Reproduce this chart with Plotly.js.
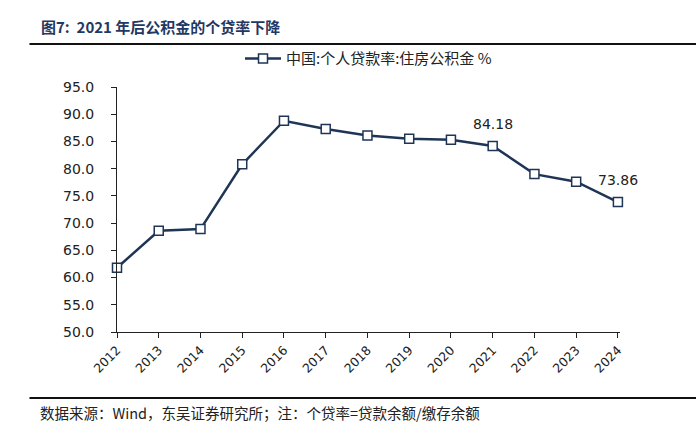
<!DOCTYPE html>
<html><head><meta charset="utf-8">
<script src="https://cdn.plot.ly/plotly-3.0.1.min.js"></script>
<style>html,body{margin:0;padding:0;background:#fff;}#chart{width:696px;height:439px;}</style>
</head><body><div id="chart"></div>
<script>
const years = [2012,2013,2014,2015,2016,2017,2018,2019,2020,2021,2022,2023,2024];
const loanRatio = [61.8,68.6,68.9,80.8,88.8,87.3,86.1,85.5,85.3,84.18,79.0,77.6,73.86];
const yTicks = [50,55,60,65,70,75,80,85,90,95];
const labeledYears = [2021,2024];
const seriesName = '中国:个人贷款率:住房公积金 %';
const titleText = '图7:  2021 年后公积金的个贷率下降';
const sourceText = '数据来源：Wind，东吴证券研究所；注：个贷率=贷款余额/缴存余额';

const navy = '#1f3556';
const trace = {
  x: years, y: loanRatio, name: seriesName, type: 'scatter', mode: 'lines+markers', cliponaxis: false,
  line: {color: navy, width: 2.5},
  marker: {symbol: 'square', size: 9, color: '#ffffff', line: {color: navy, width: 1.5}}
};
const annotations = labeledYears.map(yr => {
  const v = loanRatio[years.indexOf(yr)];
  return {x: yr, y: v, text: v.toFixed(2), showarrow: false, xref: 'x', yref: 'y',
    yshift: 22, font: {size: 14, color: '#222', family: 'DejaVu Sans, sans-serif'}};
});
annotations.push({xref: 'paper', yref: 'paper', x: -0.156, y: 1.245, xanchor: 'left', yanchor: 'middle',
  text: '<b>' + titleText + '</b>', showarrow: false, font: {size: 15, color: '#1f3864', family: 'Noto Sans CJK SC, serif'}});
annotations.push({xref: 'paper', yref: 'paper', x: -0.158, y: -0.327, xanchor: 'left', yanchor: 'middle',
  text: sourceText, showarrow: false, font: {size: 14.5, color: '#222', family: 'Noto Sans CJK SC, serif'}});

const layout = {
  width: 696, height: 439,
  margin: {l: 117, r: 76, t: 87, b: 107},
  paper_bgcolor: '#fff', plot_bgcolor: '#fff',
  showlegend: true,
  legend: {orientation: 'h', x: 0.5, xanchor: 'center', y: 1.115, yanchor: 'middle', itemwidth: 36,
    bgcolor: 'rgba(0,0,0,0)',
    font: {size: 15, color: '#222', family: 'Noto Sans CJK SC, sans-serif'}},
  xaxis: {type: 'linear', range: [2012, 2024.05], tickmode: 'array', tickvals: years,
    ticktext: years.map(String), tickangle: -45, ticks: 'outside', ticklen: 5, tickcolor: '#222',
    showline: true, linecolor: '#222', linewidth: 1, showgrid: false, zeroline: false,
    tickfont: {size: 12.5, color: '#222', family: 'DejaVu Sans, sans-serif'}},
  yaxis: {range: [50, 95], tickmode: 'array', tickvals: yTicks, ticktext: yTicks.map(v => v.toFixed(1)),
    ticks: 'outside', ticklen: 5, tickcolor: '#222', showline: true, linecolor: '#222', linewidth: 1,
    showgrid: false, zeroline: false, ticklabelstandoff: 14,
    tickfont: {size: 14, color: '#222', family: 'DejaVu Sans, sans-serif'}},
  annotations: annotations,
  shapes: [
    {type: 'line', xref: 'paper', yref: 'paper', x0: -0.174, x1: 1.2, y0: 1.176, y1: 1.176, line: {color: '#111', width: 2}},
    {type: 'line', xref: 'paper', yref: 'paper', x0: -0.174, x1: 1.2, y0: -0.269, y1: -0.269, line: {color: '#111', width: 2}}
  ]
};
Plotly.newPlot('chart', [trace], layout, {displayModeBar: false, staticPlot: true});
</script></body></html>
